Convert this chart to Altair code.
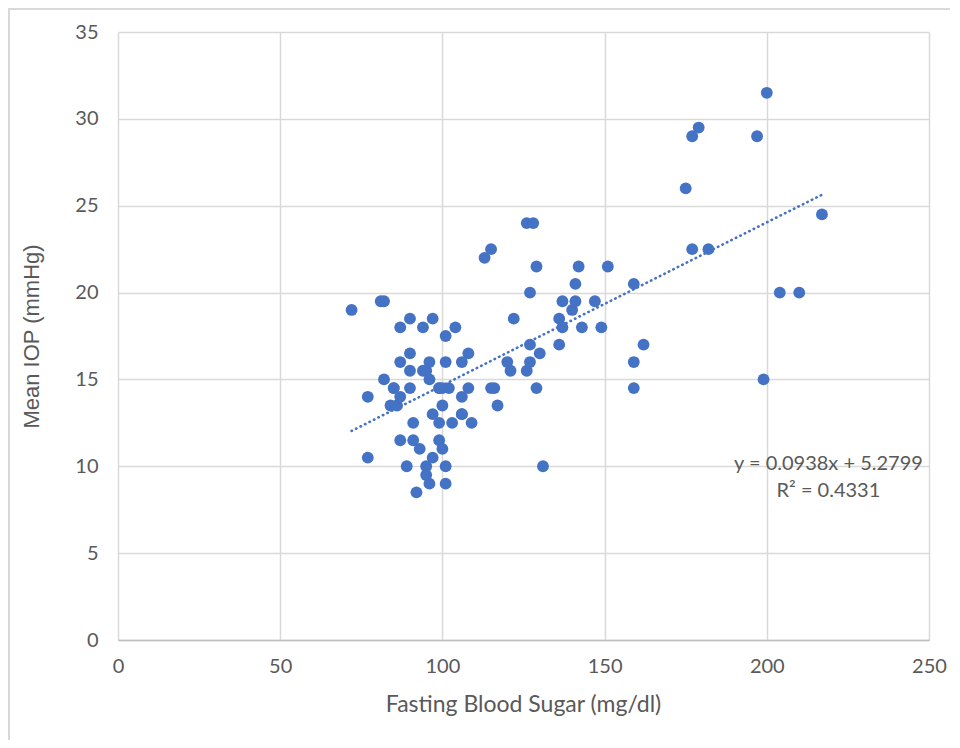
import altair as alt
import pandas as pd

# Fasting Blood Sugar (mg/dl)
fbs = [72, 77, 77, 81, 82, 82, 85, 84, 86, 87,
       87, 87, 87, 89, 90, 90, 90, 90, 91, 91,
       93, 92, 94, 94, 95, 96, 96, 95, 95, 96,
       97, 97, 97, 99, 99, 99, 100, 100, 101, 101,
       101, 101, 102, 103, 104, 106, 106, 106, 106, 108,
       108, 109, 115, 116, 117, 120, 121, 122, 113, 115,
       126, 128, 129, 127, 127, 130, 127, 126, 129, 131,
       136, 136, 137, 137, 140, 141, 141, 142, 143, 147,
       149, 151, 159, 159, 159, 162, 175, 177, 179, 177,
       182, 197, 200, 199, 204, 210, 217, 100, 99, 85]
# Mean IOP (mmHg)
iop = [19, 14, 10.5, 19.5, 19.5, 15, 14.5, 13.5, 13.5, 14,
       18, 16, 11.5, 10, 18.5, 16.5, 15.5, 14.5, 12.5, 11.5,
       11, 8.5, 18, 15.5, 15.5, 16, 15, 10, 9.5, 9,
       18.5, 13, 10.5, 14.5, 12.5, 11.5, 13.5, 11, 17.5, 16,
       10, 9, 14.5, 12.5, 18, 16, 14, 13, 13, 16.5,
       14.5, 12.5, 14.5, 14.5, 13.5, 16, 15.5, 18.5, 22, 22.5,
       24, 24, 21.5, 20, 17, 16.5, 16, 15.5, 14.5, 10,
       17, 18.5, 19.5, 18, 19, 19.5, 20.5, 21.5, 18, 19.5,
       18, 21.5, 20.5, 16, 14.5, 17, 26, 29, 29.5, 22.5,
       22.5, 29, 31.5, 15, 20, 20, 24.5, 14.5, 14.5, 14.5]

n = min(len(fbs), len(iop))
df = pd.DataFrame({"fbs": fbs[:n], "iop": iop[:n]})

# Excel linear trendline as reported on the chart
slope = 0.0938
intercept = 5.2799
eq_lines = ["y = 0.0938x + 5.2799", "R² = 0.4331"]
eq_x = [219, 219]
eq_y = [9.8, 8.25]

x_lo, x_hi = min(fbs), max(fbs)
trend = pd.DataFrame({"fbs": [x_lo, x_hi],
                      "iop": [slope * x_lo + intercept, slope * x_hi + intercept]})
eq = pd.DataFrame({"x": eq_x, "y": eq_y, "t": eq_lines})

BLUE = "#4472C4"
GRAY = "#595959"

xscale = alt.Scale(domain=[0, 250], nice=False, zero=False)
yscale = alt.Scale(domain=[0, 35], nice=False, zero=False)

xaxis = alt.Axis(values=[0, 50, 100, 150, 200, 250], grid=True, ticks=False,
                 gridColor="#d9d9d9", gridWidth=1.5,
                 domain=True, domainColor="#bfbfbf", domainWidth=1.5,
                 labelFont="Lato", labelFontSize=20, labelColor=GRAY, labelPadding=16,
                 labelFlush=False,
                 title="Fasting Blood Sugar (mg/dl)", titleFont="Lato",
                 titleFontSize=23, titleFontWeight="normal", titleColor=GRAY,
                 titleX=405, titleY=71, titleAnchor="middle", titleAlign="center",
                 titleBaseline="alphabetic")
yaxis = alt.Axis(values=[0, 5, 10, 15, 20, 25, 30, 35], grid=True, ticks=False,
                 gridColor="#d9d9d9", gridWidth=1.5, domain=False,
                 labelFont="Lato", labelFontSize=20, labelColor=GRAY, labelPadding=20,
                 labelFlush=False,
                 title="Mean IOP (mmHg)", titleFont="Liberation Sans",
                 titleFontSize=22, titleFontWeight="normal", titleColor=GRAY,
                 titleAngle=-90, titleX=-80, titleY=304, titleAlign="center",
                 titleBaseline="alphabetic")

points = alt.Chart(df).mark_circle(size=140, color=BLUE, opacity=1).encode(
    x=alt.X("fbs:Q", scale=xscale, axis=xaxis),
    y=alt.Y("iop:Q", scale=yscale, axis=yaxis),
)

line = alt.Chart(trend).mark_line(color=BLUE, strokeWidth=2.6, strokeDash=[0.5, 4.5],
                                  strokeCap="round").encode(
    x=alt.X("fbs:Q", scale=xscale),
    y=alt.Y("iop:Q", scale=yscale),
)

text = alt.Chart(eq).mark_text(font="Lato", fontSize=20, color=GRAY, align="center",
                               baseline="alphabetic").encode(
    x=alt.X("x:Q", scale=xscale),
    y=alt.Y("y:Q", scale=yscale),
    text="t:N",
)

frame = alt.Chart(pd.DataFrame({"a": [0]})).mark_rect(
    fill=None, stroke="#d9d9d9", strokeWidth=2, clip=False).encode(
    x=alt.value(-109), x2=alt.value(838), y=alt.value(-23), y2=alt.value(712))

chart = alt.layer(frame, line, points, text).properties(
    width=811, height=608,
    autosize=alt.AutoSizeParams(type="none"),
    padding={"left": 110, "top": 24, "right": 21, "bottom": 100},
    background="white",
).configure_view(stroke=None)

chart.save("out.html", embed_options={"renderer": "svg", "actions": False})
